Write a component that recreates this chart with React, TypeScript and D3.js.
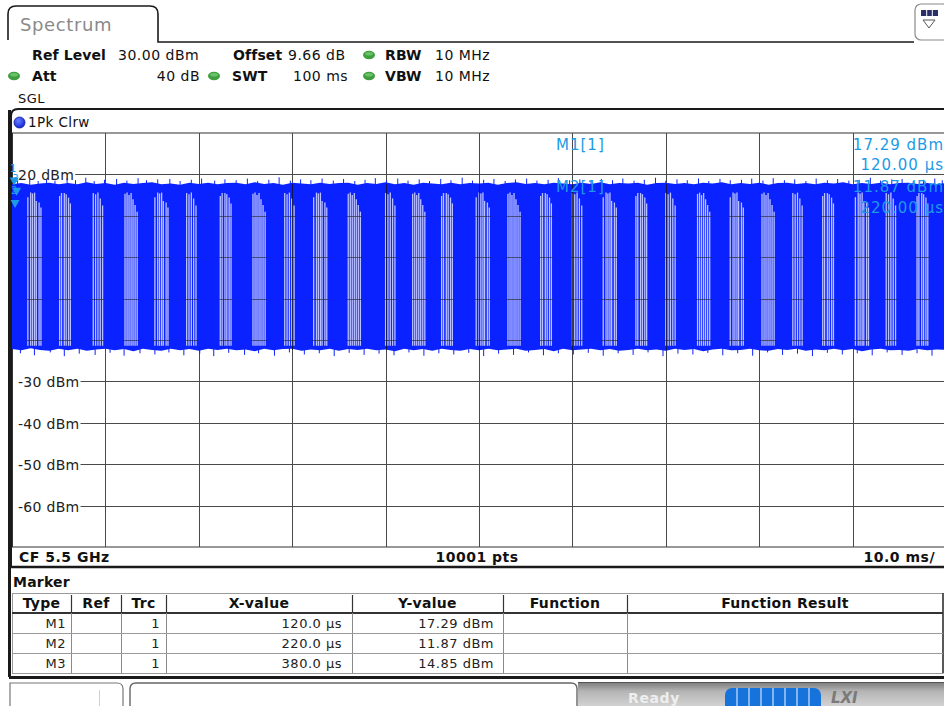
import React from 'react';
import * as d3 from 'd3';

// ---------- data ----------
const yTickValues = [20, 10, 0, -10, -20, -30, -40, -50, -60];
const xGridMs = [10, 20, 30, 40, 50, 60, 70, 80, 90];

// upper / lower envelope of the pulsed trace, one value per ms (0..100 ms)
const topEnvelopeDbm = [
  17.6, 17.9, 17.5, 17.8, 18.0, 17.6, 17.9, 17.6, 18.1, 17.7,
  17.9, 17.5, 18.0, 17.7, 17.9, 18.1, 17.6, 17.8, 17.5, 18.0,
  17.7, 18.0, 17.6, 17.9, 18.0, 17.6, 18.1, 17.7, 17.9, 17.5,
  18.0, 17.8, 17.6, 18.0, 17.7, 17.9, 18.0, 17.5, 17.9, 17.7,
  18.1, 17.6, 17.9, 17.5, 18.0, 17.8, 17.6, 18.0, 17.6, 17.9,
  17.8, 18.0, 17.5, 17.9, 18.1, 17.7, 17.9, 17.6, 18.0, 17.8,
  17.6, 18.0, 17.7, 18.1, 17.6, 17.9, 17.8, 18.0, 17.5, 17.9,
  18.0, 17.7, 17.9, 17.6, 18.0, 17.8, 18.1, 17.6, 17.9, 17.7,
  18.0, 17.5, 17.9, 18.0, 17.7, 17.9, 17.6, 18.0, 17.8, 18.1,
  17.6, 17.9, 17.7, 18.0, 17.6, 17.9, 18.0, 17.7, 17.9, 17.6,
  17.9,
];
const bottomEnvelopeDbm = [
  -22.2, -22.5, -22.0, -22.4, -22.6, -22.1, -22.5, -22.1, -22.6, -22.3,
  -22.1, -22.5, -22.2, -22.7, -22.1, -22.4, -22.6, -22.1, -22.5, -22.2,
  -22.6, -22.1, -22.4, -22.1, -22.5, -22.3, -22.7, -22.1, -22.5, -22.2,
  -22.1, -22.6, -22.3, -22.5, -22.1, -22.6, -22.2, -22.4, -22.1, -22.5,
  -22.3, -22.7, -22.1, -22.5, -22.2, -22.6, -22.1, -22.4, -22.6, -22.2,
  -22.5, -22.1, -22.5, -22.3, -22.1, -22.6, -22.4, -22.2, -22.7, -22.1,
  -22.5, -22.3, -22.1, -22.5, -22.2, -22.6, -22.4, -22.1, -22.5, -22.3,
  -22.6, -22.1, -22.4, -22.2, -22.7, -22.3, -22.1, -22.5, -22.4, -22.1,
  -22.5, -22.6, -22.2, -22.4, -22.1, -22.6, -22.3, -22.5, -22.1, -22.5,
  -22.2, -22.7, -22.3, -22.1, -22.5, -22.4, -22.6, -22.2, -22.5, -22.3,
  -22.4,
];
// noise spikes sticking out of the band [ms, dBm]
const topSpikes: [number, number][] = [
  [0.6, 18.6], [1.9, 19.0], [2.8, 18.4], [3.7, 18.8], [4.6, 18.5], [5.9, 19.1], [6.8, 18.6],
  [7.9, 19.2], [8.8, 18.4], [9.9, 18.7], [11.2, 18.9], [12.3, 18.5], [13.5, 19.1], [14.4, 18.6],
  [15.6, 18.8], [16.9, 18.9], [18.0, 18.4], [19.2, 18.7], [20.3, 19.0], [21.7, 18.5], [22.8, 18.8],
  [24.0, 18.6], [25.2, 19.0], [26.3, 18.4], [27.5, 18.7], [28.6, 19.3], [29.8, 18.5], [30.9, 18.8],
  [32.0, 18.6], [33.2, 19.0], [34.4, 18.5], [35.5, 18.9], [36.7, 18.4], [37.8, 18.7], [38.9, 19.1],
  [40.1, 18.6], [41.3, 19.0], [42.4, 18.5], [43.6, 18.8], [44.7, 18.4], [45.9, 18.9], [47.0, 18.6],
  [48.2, 19.2], [49.3, 18.5], [50.5, 18.7], [51.6, 18.9], [52.8, 18.4], [53.9, 18.8], [55.1, 19.0],
  [56.2, 18.5], [57.4, 18.7], [58.5, 19.1], [59.7, 18.6], [60.8, 18.8], [62.0, 18.4], [63.1, 18.9],
  [64.3, 18.6], [65.4, 19.0], [66.6, 18.5], [67.7, 18.7], [68.9, 19.2], [70.0, 18.5], [71.2, 18.8],
  [72.3, 18.6], [73.5, 19.0], [74.6, 18.4], [75.8, 18.9], [76.9, 18.6], [78.1, 18.7], [79.2, 19.0],
  [80.4, 18.5], [81.5, 19.1], [82.7, 18.6], [83.8, 18.8], [85.0, 18.4], [86.1, 19.0], [87.3, 18.6],
  [88.4, 18.9], [89.6, 18.5], [90.7, 18.7], [91.9, 19.2], [93.0, 18.5], [94.2, 18.8], [95.3, 18.9],
  [96.5, 18.4], [97.6, 18.7], [98.8, 19.0], [99.6, 18.6],
];
const bottomSpikes: [number, number][] = [
  [0.9, -23.2], [2.4, -23.7], [4.1, -23.0], [5.6, -23.9], [7.2, -23.3], [8.9, -23.6], [10.5, -23.1],
  [12.0, -23.8], [13.7, -23.2], [15.3, -23.5], [16.8, -23.0], [18.4, -23.7], [20.1, -23.3], [21.6, -23.9],
  [23.2, -23.1], [24.9, -23.6], [26.4, -23.2], [28.1, -23.8], [29.7, -23.0], [31.3, -23.5], [32.9, -23.2],
  [34.5, -23.9], [36.1, -23.1], [37.7, -23.6], [39.3, -23.3], [40.9, -23.7], [42.5, -23.0], [44.1, -23.8],
  [45.7, -23.2], [47.3, -23.5], [48.9, -23.1], [50.5, -23.9], [52.1, -23.3], [53.7, -23.6], [55.3, -23.0],
  [56.9, -23.7], [58.5, -23.2], [60.1, -23.5], [61.7, -23.1], [63.3, -23.8], [64.9, -23.2], [66.5, -23.6],
  [68.1, -23.0], [69.7, -23.9], [71.3, -23.3], [72.9, -23.5], [74.5, -23.1], [76.1, -23.7], [77.7, -23.2],
  [79.3, -23.8], [80.9, -23.0], [82.5, -23.6], [84.1, -23.3], [85.7, -23.9], [87.3, -23.1], [88.9, -23.5],
  [90.5, -23.2], [92.1, -23.7], [93.7, -23.0], [95.3, -23.6], [96.9, -23.2], [98.5, -23.8],
];
// start of each burst-gap group (ms) and which gap pattern it shows
const burstStartsMs = [
  1.7, 5.1, 8.7, 12.1, 15.3, 18.7, 22.3, 25.8, 29.2, 32.3, 36.0, 40.0, 42.9, 46.0, 49.7,
  53.1, 56.6, 60.0, 63.3, 66.8, 70.0, 73.4, 76.9, 80.3, 83.6, 86.8, 90.3, 93.6, 96.9,
];
const burstPatternIdx = [3, 1, 2, 0, 3, 2, 1, 0, 2, 3, 0, 2, 0, 1, 3, 0, 1, 2, 3, 1, 2, 0, 3, 0, 2, 1, 3, 2, 1];
const stripeOffsetsMs = [
  [0, 0.22, 0.43, 0.65, 0.86, 1.08, 1.3],
  [0, 0.2, 0.5, 0.7, 0.95, 1.15],
  [0, 0.25, 0.5, 0.75, 1.0],
  [0, 0.3, 0.5, 0.72, 0.9, 1.2, 1.4],
];
const stripeTopsDbm = [
  [15.3, 15.6, 15.0, 15.5, 14.0, 12.6, 11.0],
  [14.8, 15.5, 15.5, 15.2, 14.4, 13.0],
  [15.5, 15.2, 15.6, 14.2, 12.5],
  [14.5, 15.6, 15.4, 15.6, 13.6, 13.2, 12.0],
];
const stripeBottomDbm = -21.4;

// markers
const markerNames = ['M1', 'M2', 'M3'];
const markerTraces = [1, 1, 1];
const markerTimesUs = [120.0, 220.0, 380.0];
const markerLevelsDbm = [17.29, 11.87, 14.85];

const tableColumns = ['Type', 'Ref', 'Trc', 'X-value', 'Y-value', 'Function', 'Function Result'];

// ---------- helpers ----------
const FONT = '"DejaVu Sans", Verdana, sans-serif';
let ctx: CanvasRenderingContext2D | null = null;
function textW(s: string, size: number, weight = 'normal', ls = 0) {
  if (!ctx && typeof document !== 'undefined') ctx = document.createElement('canvas').getContext('2d');
  if (!ctx) return s.length * size * 0.6 + ls * s.length;
  ctx.font = `${weight} ${size}px "DejaVu Sans"`;
  return ctx.measureText(s).width + ls * s.length;
}

const MARK = '#1c9ae6';
const TRACE = '#0a22ff';
const GRID = '#4a4a4a';

function Dot({ cx, cy }: { cx: number; cy: number }) {
  return (
    <g>
      <ellipse cx={cx} cy={cy} rx={6} ry={4.2} fill="#3f9f3f" />
      <ellipse cx={cx} cy={cy - 1.3} rx={4} ry={1.8} fill="#7fd07f" opacity={0.7} />
    </g>
  );
}

export default function App() {
  const W = 944, H = 706;
  const gx0 = 12, gx1 = 946, gy0 = 133, gy1 = 547;
  const x = d3.scaleLinear().domain([0, 100]).range([gx0, gx1]);
  const y = d3.scaleLinear().domain([-70, 30]).range([gy1, gy0]);

  const n = topEnvelopeDbm.length;
  const tAt = (i: number) => (i * 100) / (n - 1);
  const band = d3
    .area<number>()
    .x((_, i) => x(tAt(i)))
    .y0((_, i) => y(bottomEnvelopeDbm[i]))
    .y1((d) => y(d))
    .curve(d3.curveLinear)(topEnvelopeDbm) as string;

  const inBandLevels = yTickValues.filter((v) => v < 11 && v > stripeBottomDbm);

  const colEdges = [12, 71, 121, 166, 352, 503, 627, 943];
  const headTop = 593, headBot = 613, rowH = 20;

  return (
    <svg width={W} height={H} style={{ position: 'absolute', left: 0, top: 0, background: '#fff' }} fontFamily={FONT}>
      <defs>
        <linearGradient id="statusGrad" x1="0" y1="0" x2="0" y2="1">
          <stop offset="0" stopColor="#7a7a7a" />
          <stop offset="0.35" stopColor="#b4b4b4" />
          <stop offset="1" stopColor="#d6d6d6" />
        </linearGradient>
        <radialGradient id="traceDot" cx="0.4" cy="0.35" r="0.7">
          <stop offset="0" stopColor="#6b7dff" />
          <stop offset="1" stopColor="#0a22d8" />
        </radialGradient>
        <clipPath id="gridClip">
          <rect x={gx0} y={gy0} width={gx1 - gx0} height={gy1 - gy0} />
        </clipPath>
      </defs>
      <rect x={0} y={0} width={W} height={H} fill="#fff" />

      {/* ---------- tab header ---------- */}
      <path d="M 8 40 L 8 14 Q 8 6 16 6 L 150 6 Q 158 6 158 14 L 158 42 L 914 42" fill="none" stroke="#1a1a1a" strokeWidth={1.6} />
      <text x={20} y={31} fontSize={18} fill="#8a8a8a" letterSpacing={0.6}>Spectrum</text>
      <rect x={915} y={4} width={34} height={36} rx={6} fill="#fff" stroke="#8a8a8a" strokeWidth={1.2} />
      <rect x={921} y={10} width={17} height={6} fill="#2a2f6a" />
      <line x1={926.7} y1={10} x2={926.7} y2={16} stroke="#fff" strokeWidth={1} />
      <line x1={932.3} y1={10} x2={932.3} y2={16} stroke="#fff" strokeWidth={1} />
      <path d="M 923 20 L 935 20 L 929 28 Z" fill="#fff" stroke="#555" strokeWidth={1} />

      <g fontSize={14} fill="#111">
        <g fontWeight="bold" letterSpacing={0.1}>
          <text x={32} y={60}>Ref Level</text>
          <text x={233} y={60}>Offset</text>
          <text x={385} y={60}>RBW</text>
          <text x={32} y={81}>Att</text>
          <text x={232} y={81}>SWT</text>
          <text x={385} y={81}>VBW</text>
        </g>
        <g letterSpacing={0.5}>
          <text x={118} y={60}>30.00 dBm</text>
          <text x={288} y={60}>9.66 dB</text>
          <text x={435} y={60}>10 MHz</text>
          <text x={200} y={81} textAnchor="end">40 dB</text>
          <text x={293} y={81}>100 ms</text>
          <text x={435} y={81}>10 MHz</text>
          <text x={18} y={103} fontSize={13}>SGL</text>
        </g>
      </g>
      <Dot cx={369} cy={55} />
      <Dot cx={14} cy={76} />
      <Dot cx={214} cy={76} />
      <Dot cx={369} cy={76} />

      {/* ---------- plot panel ---------- */}
      <rect x={8} y={110} width={3} height={567} fill="#1a1a1a" />
      <path d="M 11 567 L 11 116 Q 11 109 18 109 L 950 109" fill="none" stroke="#1a1a1a" strokeWidth={2} />
      <line x1={11} y1={567} x2={950} y2={567} stroke="#1a1a1a" strokeWidth={2.5} />
      <circle cx={19.5} cy={122.5} r={5.5} fill="url(#traceDot)" stroke="#0a1aa0" strokeWidth={0.8} />
      <text x={28} y={127} fontSize={13.5} fill="#111" letterSpacing={0.4}>1Pk Clrw</text>

      {/* grid */}
      <line x1={gx0} y1={gy0} x2={gx1} y2={gy0} stroke="#333" strokeWidth={1.2} />
      <line x1={gx0} y1={gy1} x2={gx1} y2={gy1} stroke="#333" strokeWidth={1.2} />
      <line x1={gx0 + 0.5} y1={gy0} x2={gx0 + 0.5} y2={gy1} stroke="#333" strokeWidth={1} />
      {xGridMs.map((t) => (
        <line key={'vg' + t} x1={Math.round(x(t)) + 0.5} y1={gy0} x2={Math.round(x(t)) + 0.5} y2={gy1} stroke={GRID} strokeWidth={1} />
      ))}
      {yTickValues.map((v) => {
        const label = `${v} dBm`;
        const w = textW(label, 14, 'normal', 0.3);
        const yy = Math.round(y(v)) + 0.5;
        return (
          <g key={'hg' + v}>
            <line x1={18 + w + 1} y1={yy} x2={gx1} y2={yy} stroke={GRID} strokeWidth={1} />
            <text x={18} y={yy + 5} fontSize={14} fill="#222" letterSpacing={0.3}>{label}</text>
          </g>
        );
      })}

      {/* trace */}
      <g clipPath="url(#gridClip)">
        <path d={band} fill={TRACE} />
        {topSpikes.map(([t, v], i) => (
          <line key={'ts' + i} x1={x(t)} x2={x(t)} y1={y(17.4)} y2={y(v)} stroke={TRACE} strokeWidth={1} />
        ))}
        {bottomSpikes.map(([t, v], i) => (
          <line key={'bs' + i} x1={x(t)} x2={x(t)} y1={y(-21.8)} y2={y(v)} stroke={TRACE} strokeWidth={1} />
        ))}
        {burstStartsMs.map((b, gi) => {
          const p = burstPatternIdx[gi];
          const offs = stripeOffsetsMs[p];
          const tops = stripeTopsDbm[p];
          const xa = x(b) - 1.5;
          const xb = x(b + offs[offs.length - 1]) + 1.5;
          const maxTop = Math.max(...tops);
          return (
            <g key={'bg' + gi}>
              {offs.map((o, k) => (
                <line key={k} x1={x(b + o)} x2={x(b + o)} y1={y(tops[k])} y2={y(stripeBottomDbm)} stroke="#ffffff" strokeOpacity={0.72} strokeWidth={1.3} />
              ))}
              {inBandLevels.map((v) => (
                <line key={'h' + v} x1={xa} x2={xb} y1={Math.round(y(v)) + 0.5} y2={Math.round(y(v)) + 0.5} stroke="#222" strokeOpacity={0.6} strokeWidth={1} />
              ))}
              {xGridMs
                .filter((t) => x(t) >= xa && x(t) <= xb)
                .map((t) => (
                  <line key={'v' + t} x1={Math.round(x(t)) + 0.5} x2={Math.round(x(t)) + 0.5} y1={y(maxTop + 2)} y2={y(stripeBottomDbm - 1)} stroke="#111" strokeOpacity={0.75} strokeWidth={1} />
                ))}
            </g>
          );
        })}
      </g>

      {/* markers on trace */}
      {markerNames.map((m, i) => {
        const px = x(markerTimesUs[i] / 1000) + 1;
        const py = y(markerLevelsDbm[i]);
        return (
          <g key={'mk' + m}>
            <path d={`M ${px} ${py} L ${px - 4.5} ${py - 8} L ${px + 4.5} ${py - 8} Z`} fill={MARK} />
            <text x={px - 4} y={py - 14} fontSize={10} fill={MARK}>{String(i + 1)}</text>
          </g>
        );
      })}

      {/* marker readouts */}
      <g fontSize={15} fill={MARK} letterSpacing={1}>
        <text x={556} y={150}>{`${markerNames[0]}[${markerTraces[0]}]`}</text>
        <text x={944} y={150} textAnchor="end">{`${markerLevelsDbm[0].toFixed(2)} dBm`}</text>
        <text x={944} y={170} textAnchor="end">{`${markerTimesUs[0].toFixed(2)} µs`}</text>
        <text x={556} y={192}>{`${markerNames[1]}[${markerTraces[1]}]`}</text>
        <text x={944} y={192} textAnchor="end">{`${markerLevelsDbm[1].toFixed(2)} dBm`}</text>
        <text x={944} y={213} textAnchor="end">{`${markerTimesUs[1].toFixed(2)} µs`}</text>
      </g>

      {/* footer of plot */}
      <g fontSize={14} fontWeight="bold" fill="#111" letterSpacing={0.5}>
        <text x={19} y={562}>CF 5.5 GHz</text>
        <text x={477} y={562} textAnchor="middle">10001 pts</text>
        <text x={935} y={562} textAnchor="end">10.0 ms/</text>
      </g>

      {/* ---------- marker table ---------- */}
      <text x={13} y={587} fontSize={14} fontWeight="bold" fill="#111" letterSpacing={0.2}>Marker</text>
      <rect x={12.5} y={headTop + 0.5} width={colEdges[colEdges.length - 1] - 12.5} height={headBot - headTop + rowH * 3} fill="none" stroke="#9a9a9a" strokeWidth={1} />
      <line x1={12} y1={headBot} x2={943} y2={headBot} stroke="#333" strokeWidth={2} />
      {colEdges.slice(1, -1).map((cx, i) => (
        <g key={'ce' + i}>
          <line x1={cx + 0.5} y1={headTop + 2} x2={cx + 0.5} y2={headBot} stroke="#333" strokeWidth={1.2} />
          <line x1={cx + 0.5} y1={headBot} x2={cx + 0.5} y2={headBot + rowH * 3} stroke="#8a8a8a" strokeWidth={1} />
        </g>
      ))}
      <line x1={943} y1={headTop} x2={943} y2={headBot + rowH * 3} stroke="#333" strokeWidth={1.5} />
      {[1, 2].map((r) => (
        <line key={'rl' + r} x1={12} y1={headBot + rowH * r + 0.5} x2={943} y2={headBot + rowH * r + 0.5} stroke="#9a9a9a" strokeWidth={1} />
      ))}
      <g fontSize={14} fontWeight="bold" fill="#111" letterSpacing={0.3}>
        {tableColumns.map((c, i) => (
          <text key={'th' + c} x={(colEdges[i] + colEdges[i + 1]) / 2} y={headBot - 5} textAnchor="middle">{c}</text>
        ))}
      </g>
      <g fontSize={13} fill="#222" letterSpacing={0.5}>
        {markerNames.map((m, r) => {
          const by = headBot + rowH * r + 15;
          return (
            <g key={'row' + m}>
              <text x={colEdges[1] - 5} y={by} textAnchor="end">{m}</text>
              <text x={colEdges[3] - 6} y={by} textAnchor="end">{String(markerTraces[r])}</text>
              <text x={colEdges[4] - 10} y={by} textAnchor="end">{`${markerTimesUs[r].toFixed(1)} µs`}</text>
              <text x={colEdges[5] - 9} y={by} textAnchor="end">{`${markerLevelsDbm[r].toFixed(2)} dBm`}</text>
            </g>
          );
        })}
      </g>
      <line x1={9} y1={677.5} x2={950} y2={677.5} stroke="#1a1a1a" strokeWidth={3} />

      {/* ---------- status bar ---------- */}
      <path d="M 10 710 L 10 683 L 117 683 Q 123 683 123 689 L 123 710" fill="#fff" stroke="#777" strokeWidth={1.2} />
      <line x1={99.5} y1={690} x2={99.5} y2={706} stroke="#d0d0d0" strokeWidth={1} />
      <path d="M 130 710 L 130 689 Q 130 683 136 683 L 571 683 Q 577 683 577 689 L 577 710" fill="#fff" stroke="#666" strokeWidth={1.4} />
      <rect x={578} y={682} width={370} height={26} fill="url(#statusGrad)" />
      <line x1={578} y1={682.5} x2={948} y2={682.5} stroke="#555" strokeWidth={1} />
      <text x={628} y={703} fontSize={14} fontWeight="bold" fill="#eeeeee" letterSpacing={0.6}>Ready</text>
      <rect x={725} y={688} width={96} height={24} rx={7} fill="#1673dc" />
      {[1, 2, 3, 4, 5, 6, 7].map((k) => (
        <line key={'pb' + k} x1={725 + k * 12} y1={688} x2={725 + k * 12} y2={710} stroke="#a8cdf5" strokeWidth={1.5} />
      ))}
      <text x={831} y={703} fontSize={15} fontWeight="bold" fontStyle="italic" fill="#7a7a7a">LXI</text>
    </svg>
  );
}
